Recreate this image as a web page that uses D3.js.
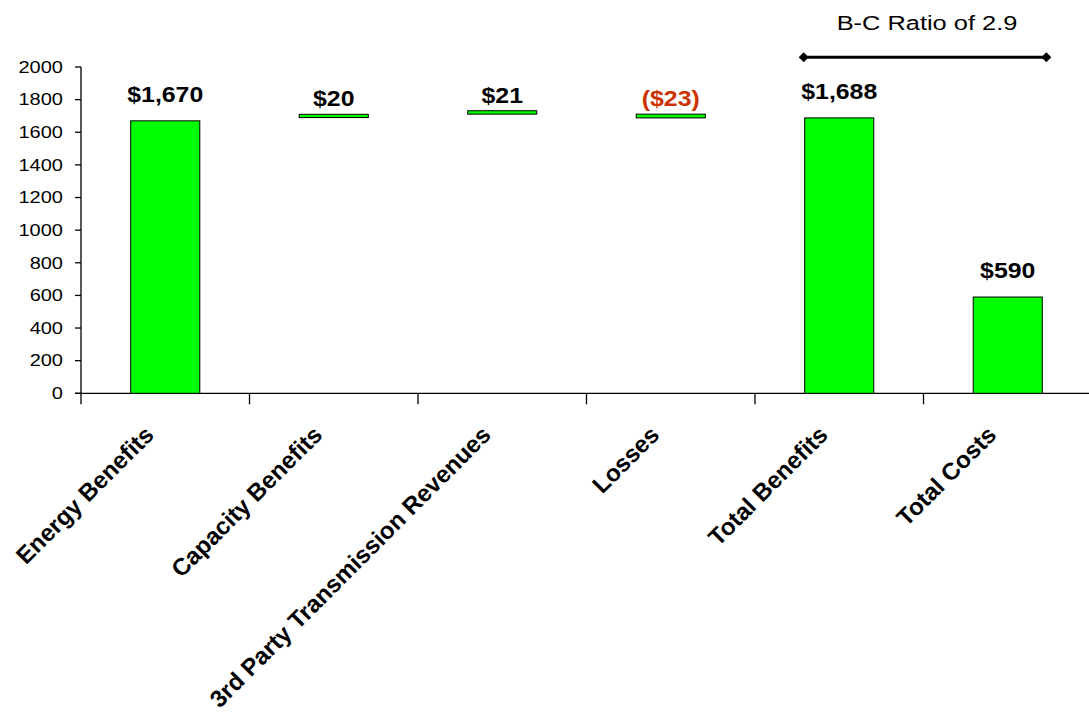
<!DOCTYPE html>
<html>
<head>
<meta charset="utf-8">
<script src="https://cdn.jsdelivr.net/npm/d3@7"></script>
<style>
  html, body { margin: 0; padding: 0; background: #fff; }
  svg { display: block; }
  text { font-family: Arial, "Liberation Sans", sans-serif; }
</style>
</head>
<body>
<svg id="chart" width="1089" height="719"></svg>
<script>
// Benefit / cost build-up (values in $ millions)
const categories = ["Energy Benefits", "Capacity Benefits", "3rd Party Transmission Revenues",
                    "Losses", "Total Benefits", "Total Costs"];
const values = [1670, 20, 21, -23, 1688, 590];
// true = step bar floating on the running total, false = bar from zero
const isStep = [false, true, true, true, false, false];
const yTicks = [0, 200, 400, 600, 800, 1000, 1200, 1400, 1600, 1800, 2000];
const ratioLabel = "B-C Ratio of 2.9";

// Running total after each entry; step bars sit on it, spanning the step's magnitude
let running = 0;
const bars = categories.map((c, i) => {
  const v = values[i];
  let lo, hi;
  if (isStep[i]) {
    running += v;
    lo = running;
    hi = running + Math.abs(v);
  } else {
    running = v;
    lo = 0;
    hi = v;
  }
  return { cat: c, value: v, lo, hi, step: isStep[i] };
});

const svg = d3.select("#chart");
const x = d3.scaleBand().domain(categories).range([81, 1092]).padding(0);
const y = d3.scaleLinear().domain([0, 2000]).range([393.3, 67]);
const barW = x.bandwidth() * 0.41;
const cx = c => x(c) + x.bandwidth() / 2;

// Y axis
const yAxis = svg.append("g").attr("transform", "translate(81,0)");
yAxis.append("line").attr("x1", 0).attr("x2", 0).attr("y1", y(2000)).attr("y2", y(0))
  .attr("stroke", "#000").attr("stroke-width", 1.3);
yAxis.selectAll("line.tick").data(yTicks).join("line").attr("class", "tick")
  .attr("x1", -6).attr("x2", 0).attr("y1", d => y(d)).attr("y2", d => y(d))
  .attr("stroke", "#000").attr("stroke-width", 1.3);
yAxis.selectAll("g.lbl").data(yTicks).join("g").attr("class", "lbl")
  .attr("transform", d => `translate(-18,${y(d) + 5.8}) scale(1.25,1)`)
  .append("text").attr("text-anchor", "end").attr("font-size", 16).attr("fill", "#000")
  .text(d => d);

// X axis with tick marks between categories
const xAxis = svg.append("g");
xAxis.append("line").attr("x1", 75).attr("x2", 1089).attr("y1", y(0)).attr("y2", y(0))
  .attr("stroke", "#000").attr("stroke-width", 1.3);
const bounds = categories.map(c => x(c));
xAxis.selectAll("line.tick").data(bounds).join("line").attr("class", "tick")
  .attr("x1", d => d).attr("x2", d => d).attr("y1", y(0)).attr("y2", y(0) + 11)
  .attr("stroke", "#000").attr("stroke-width", 1.3);

// Bars
svg.append("g").selectAll("rect").data(bars).join("rect")
  .attr("x", d => cx(d.cat) - barW / 2)
  .attr("y", d => y(d.hi))
  .attr("width", barW)
  .attr("height", d => y(d.lo) - y(d.hi))
  .attr("fill", "#00ff00")
  .attr("stroke", "#000")
  .attr("stroke-width", 1);

// Value labels
const fmt = d3.format(",");
const valueText = v => v < 0 ? `($${fmt(-v)})` : `$${fmt(v)}`;
svg.append("g").selectAll("g").data(bars).join("g")
  .attr("transform", d => `translate(${cx(d.cat)},${y(d.hi) - (d.step ? 8 : 19)}) scale(1.13,1)`)
  .append("text")
  .attr("text-anchor", "middle")
  .attr("font-size", 22)
  .attr("font-weight", "bold")
  .attr("fill", d => d.value < 0 ? "#cc3300" : "#000")
  .text(d => valueText(d.value));

// Category labels, rotated
svg.append("g").selectAll("text").data(categories).join("text")
  .attr("transform", c => `translate(${cx(c) - 10},${y(0) + 43}) rotate(-45)`)
  .attr("text-anchor", "end")
  .attr("font-size", 24)
  .attr("font-weight", "bold")
  .attr("fill", "#000")
  .text(c => c);

// Benefit-cost ratio bracket over the two totals
const xL = cx("Total Benefits") - barW / 2 - 1;
const xR = cx("Total Costs") + barW / 2 + 4;
const yB = 57.3;
const bracket = svg.append("g");
bracket.append("line").attr("x1", xL).attr("x2", xR).attr("y1", yB).attr("y2", yB)
  .attr("stroke", "#000").attr("stroke-width", 3);
bracket.selectAll("path").data([xL, xR]).join("path")
  .attr("d", d => `M${d - 5},${yB} L${d},${yB - 5} L${d + 5},${yB} L${d},${yB + 5} Z`)
  .attr("fill", "#000");
bracket.append("g")
  .attr("transform", `translate(${(xL + xR) / 2 + 2},29.5) scale(1.27,1)`)
  .append("text").attr("text-anchor", "middle").attr("font-size", 20).attr("fill", "#000")
  .text(ratioLabel);
</script>
</body>
</html>
